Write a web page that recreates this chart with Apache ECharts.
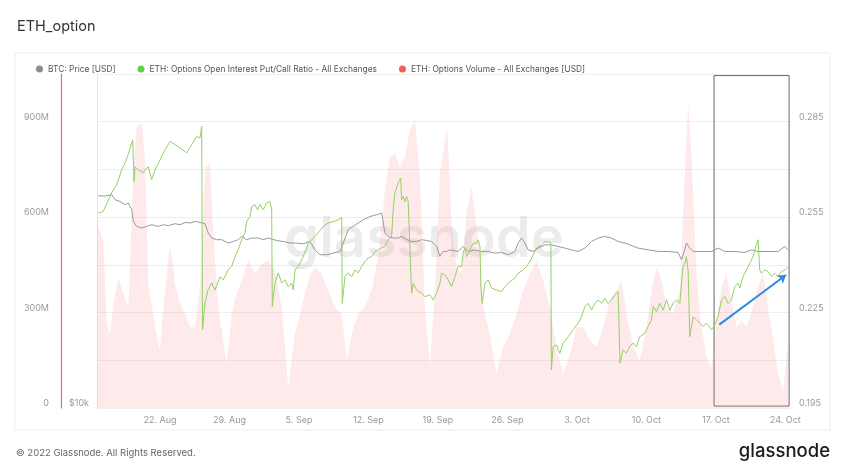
<!DOCTYPE html>
<html><head><meta charset="utf-8">
<script src="https://cdn.jsdelivr.net/npm/echarts@6/dist/echarts.min.js"></script>
<style>html,body{margin:0;padding:0;background:#fff;}#c{width:846px;height:468px;}</style>
</head><body><div id="c"></div>
<script>
// x values are days since 15 Aug 2022 00:00 UTC
const T0 = Date.UTC(2022, 7, 15);
const DAY = 86400000;
const MONTHS = ['Jan','Feb','Mar','Apr','May','Jun','Jul','Aug','Sep','Oct','Nov','Dec'];
const xTickDays = [7, 14, 21, 28, 35, 42, 49, 56, 63, 70];
const xMinDay = 0.65, xMaxDay = 70.47;

// ETH options open interest put/call ratio
const ratioDays = [0.79,1.26,2.14,2.64,3.14,3.48,3.78,4.15,4.25,4.38,4.48,4.81,5.32,5.49,5.82,6.16,6.50,7.00,7.50,8.01,8.51,9.01,9.69,10.19,10.70,11.03,11.20,11.28,11.53,11.83,12.21,12.54,13.04,13.37,13.85,14.22,14.55,14.86,15.23,15.56,15.73,16.06,16.23,16.57,16.82,17.07,17.40,17.75,18.08,18.25,18.31,18.58,18.91,19.26,19.59,19.92,20.26,20.42,20.60,20.93,21.27,21.60,21.93,22.28,22.61,22.94,23.45,23.95,24.45,24.96,25.30,25.36,25.63,25.96,26.31,26.64,26.97,27.31,27.64,27.98,28.32,28.65,28.98,29.33,29.66,29.83,29.99,30.33,30.49,30.67,31.00,31.24,31.34,31.50,31.67,31.84,32.00,32.18,32.35,32.51,32.85,33.35,33.69,34.19,34.52,34.87,35.20,35.37,35.70,36.03,36.37,36.71,37.04,37.38,37.54,37.71,37.89,38.22,38.55,38.89,39.05,39.23,39.33,39.46,39.73,40.06,40.40,40.91,41.41,41.74,42.25,42.75,43.08,43.59,43.93,44.26,44.59,44.94,45.44,45.77,46.10,46.38,46.43,46.61,46.95,47.28,47.61,48.12,48.62,49.12,49.47,49.80,50.13,50.47,50.81,51.14,51.48,51.81,52.15,52.49,52.82,53.15,53.27,53.35,53.65,53.99,54.32,54.66,55.00,55.34,55.84,56.17,56.51,56.68,57.02,57.35,57.69,58.03,58.36,58.69,59.03,59.37,59.54,59.70,59.87,60.04,60.21,60.37,60.71,61.05,61.38,61.72,62.05,62.56,62.89,63.22,63.57,63.90,64.23,64.57,64.90,65.24,65.41,65.74,66.08,66.42,66.75,66.92,67.26,67.42,67.59,67.93,68.26,68.60,68.93,69.27,69.61,69.94,70.28];
const ratioValues = [0.2563,0.2567,0.2627,0.2652,0.2699,0.2721,0.2746,0.2784,0.2793,0.2662,0.2708,0.2699,0.2690,0.2699,0.2708,0.2668,0.2699,0.2730,0.2762,0.2788,0.2778,0.2768,0.2752,0.2778,0.2804,0.2799,0.2835,0.2196,0.2280,0.2321,0.2343,0.2321,0.2362,0.2353,0.2384,0.2395,0.2425,0.2447,0.2479,0.2501,0.2536,0.2552,0.2583,0.2589,0.2573,0.2589,0.2573,0.2595,0.2599,0.2573,0.2269,0.2343,0.2375,0.2343,0.2353,0.2331,0.2343,0.2321,0.2384,0.2395,0.2416,0.2438,0.2469,0.2479,0.2489,0.2501,0.2521,0.2532,0.2536,0.2542,0.2548,0.2279,0.2363,0.2375,0.2363,0.2384,0.2375,0.2395,0.2410,0.2422,0.2426,0.2442,0.2447,0.2454,0.2458,0.2469,0.2479,0.2489,0.2573,0.2627,0.2658,0.2673,0.2605,0.2615,0.2599,0.2615,0.2599,0.2595,0.2311,0.2342,0.2321,0.2311,0.2300,0.2306,0.2290,0.2311,0.2342,0.2374,0.2369,0.2353,0.2332,0.2363,0.2395,0.2395,0.2438,0.2453,0.2426,0.2447,0.2468,0.2468,0.2479,0.2458,0.2332,0.2279,0.2342,0.2353,0.2327,0.2321,0.2316,0.2332,0.2347,0.2358,0.2374,0.2384,0.2395,0.2410,0.2431,0.2453,0.2463,0.2473,0.2473,0.2468,0.2070,0.2143,0.2148,0.2122,0.2154,0.2174,0.2196,0.2217,0.2237,0.2269,0.2279,0.2258,0.2279,0.2290,0.2279,0.2295,0.2279,0.2290,0.2306,0.2316,0.2316,0.2091,0.2133,0.2122,0.2143,0.2154,0.2143,0.2174,0.2185,0.2206,0.2227,0.2269,0.2253,0.2279,0.2258,0.2290,0.2258,0.2279,0.2290,0.2279,0.2342,0.2395,0.2405,0.2426,0.2380,0.2174,0.2237,0.2227,0.2217,0.2206,0.2217,0.2196,0.2211,0.2237,0.2290,0.2300,0.2279,0.2290,0.2332,0.2342,0.2327,0.2363,0.2384,0.2405,0.2426,0.2447,0.2479,0.2384,0.2374,0.2384,0.2379,0.2363,0.2374,0.2363,0.2379,0.2384,0.2395];

// BTC price in USD
const priceDays = [0.79,1.46,2.14,2.47,2.97,3.48,3.81,4.15,4.31,4.65,5.16,5.66,6.16,6.83,7.33,7.84,8.51,9.01,9.52,10.02,10.52,11.03,11.53,11.86,12.21,12.71,13.21,13.88,14.38,14.89,15.23,15.73,16.23,16.90,17.40,17.91,18.75,19.42,20.09,20.77,21.43,22.11,22.61,23.11,23.79,24.45,25.13,25.46,25.96,26.47,26.97,27.47,28.15,28.82,29.33,29.49,29.66,29.99,30.49,31.00,31.34,31.84,32.35,32.85,33.35,33.86,34.36,34.87,35.20,35.53,35.87,36.20,36.37,37.04,37.54,38.05,38.72,39.40,40.06,40.74,41.41,42.08,42.75,43.08,43.43,43.76,44.09,44.59,45.10,45.77,46.45,47.11,47.79,48.46,49.12,49.80,50.47,51.14,51.81,52.49,53.15,53.83,54.33,55.17,56.17,57.18,58.19,59.20,59.54,59.87,60.04,60.37,60.71,61.55,62.56,63.22,63.90,64.90,65.91,66.58,67.26,68.26,69.27,69.94,70.28];
const priceUsd = [24140,24100,24240,23740,23570,23250,23420,22780,21690,21250,21110,21250,21400,21250,21400,21310,21490,21400,21600,21550,21690,21600,21490,20670,20250,20110,20110,19830,19960,20110,20380,20110,20250,20250,20110,20250,20040,19960,19830,19830,19770,19960,19280,18890,18890,19020,19150,19830,20960,21250,21550,21840,22140,22300,22460,22300,20670,20380,20250,20250,20380,20110,19960,19960,20110,20040,19960,19550,18760,19150,19150,19280,19150,19150,19550,19150,19280,19150,19150,19020,19070,18890,19150,19830,20250,19830,19280,19150,19420,19680,19680,19550,19420,19280,19150,19420,19960,20250,20380,20250,19960,19830,19680,19420,19280,19150,19150,19070,18500,19280,19830,19420,19150,19150,19150,19420,19150,19150,19070,19280,19150,19150,19150,19550,19280];

// ETH options volume, millions of USD
const volumeDays = [0.65,0.79,1.29,1.63,1.96,2.30,2.80,3.30,3.81,4.31,4.65,5.16,5.49,5.82,6.16,6.50,7.00,7.33,8.01,8.51,9.01,9.52,10.02,10.52,11.03,11.53,12.04,12.37,12.87,13.37,13.72,14.22,14.72,15.23,15.89,16.57,17.24,17.91,18.58,19.26,19.92,20.60,21.27,21.93,22.61,23.28,23.95,24.62,25.30,25.80,26.31,26.97,27.64,28.32,28.98,29.66,30.16,30.67,31.17,31.67,32.18,32.68,33.18,33.69,34.19,34.69,35.20,35.70,35.94,36.37,36.88,37.38,37.89,38.39,39.05,39.56,40.23,40.91,41.57,42.25,42.92,43.59,44.26,44.94,45.60,46.27,46.95,47.61,48.29,48.96,49.63,50.30,50.98,51.64,52.32,52.99,53.50,54.00,54.67,55.34,56.01,56.51,57.02,57.52,58.03,58.69,59.37,59.87,60.21,60.55,61.05,61.55,62.05,62.56,63.06,63.57,64.07,64.57,65.08,65.58,66.08,66.75,67.26,67.76,68.26,68.77,69.27,69.77,70.28];
const volumeMillions = [600,569,526,264,233,327,411,359,317,736,883,894,778,390,327,254,180,317,516,390,327,296,254,254,380,757,768,548,317,212,138,296,359,401,464,422,453,464,432,317,65,233,317,401,443,422,369,317,296,149,233,296,317,369,474,684,789,799,757,789,873,904,736,317,128,369,736,841,883,579,443,422,611,695,526,317,233,107,191,233,296,369,422,464,401,317,191,107,170,254,254,212,191,254,338,369,401,296,191,149,254,369,443,401,317,296,369,736,957,789,422,254,160,128,264,380,422,338,254,275,254,317,380,422,317,212,107,54,212];

// y-axis ranges / tick labels
const ratioMin = 0.195, ratioMax = 0.300, ratioStep = 0.015;
const volumeMax = 1050e6, volumeStep = 300e6;
const priceMin = 10000, priceMax = 40000;

// annotation: highlighted window and trend arrow (data units)
const boxDays = [62.82, 70.38];
const boxRatio = [0.1956, 0.2995];
const trendFrom = [63.35, 0.2212];
const trendTo = [70.07, 0.2368];

const zip = (xs, ys, k) => xs.map((d, i) => [d, ys[i] * (k || 1)]);
const fmtDay = d => { const dt = new Date(T0 + Math.round(d) * DAY); return dt.getUTCDate() + '. ' + MONTHS[dt.getUTCMonth()]; };

const FONT = 'Inter, "Noto Sans", sans-serif';
const chart = echarts.init(document.getElementById('c'), null, { renderer: 'canvas' });
chart.setOption({
  animation: false,
  backgroundColor: '#fff',
  textStyle: { fontFamily: FONT },
  graphic: [
    { type: 'rect', silent: true, z: -10, shape: { x: 15, y: 53, width: 815, height: 377 },
      style: { fill: '#fff', stroke: '#ededed', lineWidth: 1 } },
    { type: 'text', left: 17, top: 19, style: { text: 'ETH_option', fontSize: 14.5, fill: '#333', fontFamily: FONT } },
    { type: 'text', left: 16, top: 448, style: { text: '\u00a9 2022 Glassnode. All Rights Reserved.', fontSize: 9.5, fill: '#666', fontFamily: FONT } },
    { type: 'text', right: 16, top: 442, style: { text: 'glassnode', fontSize: 18.5, fontWeight: 500, fill: '#1b1b1b', fontFamily: FONT } },
    { type: 'text', x: 424, y: 240, z: 1, silent: true,
      style: { text: 'glassnode', fontSize: 56, fontWeight: 600, fill: 'rgba(120,120,120,0.14)', align: 'center', verticalAlign: 'middle', fontFamily: FONT } }
  ],
  legend: {
    left: 31, top: 60, icon: 'circle', itemWidth: 7, itemHeight: 7, itemGap: 22,
    textStyle: { fontSize: 8.4, color: '#555', fontFamily: FONT },
    data: ['BTC: Price [USD]', 'ETH: Options Open Interest Put/Call Ratio - All Exchanges', 'ETH: Options Volume - All Exchanges [USD]']
  },
  grid: { left: 97, right: 56, top: 74, bottom: 60 },
  xAxis: {
    type: 'value', min: xMinDay, max: xMaxDay,
    axisLine: { show: true, lineStyle: { color: '#eeeeee' } },
    axisTick: { show: false },
    splitLine: { show: false },
    axisLabel: { customValues: xTickDays, formatter: fmtDay, fontSize: 9, color: '#999', margin: 8, fontFamily: FONT }
  },
  yAxis: [
    { type: 'value', position: 'right', min: ratioMin, max: ratioMax, interval: ratioStep,
      axisLine: { show: false }, axisTick: { show: false },
      splitLine: { show: true, lineStyle: { color: '#eeeeee' } },
      axisLabel: { fontSize: 9, color: '#999', margin: 9, verticalAlign: 'bottom', fontFamily: FONT,
        formatter: v => { const k = Math.round((v - ratioMin) / ratioStep); return k % 2 === 0 ? v.toFixed(3) : ''; } } },
    { type: 'value', position: 'left', offset: 36, min: 0, max: volumeMax, interval: volumeStep,
      axisLine: { show: true, onZero: false, lineStyle: { color: '#f26a6a', width: 1.2, opacity: 1 } }, axisTick: { show: false },
      splitLine: { show: false },
      axisLabel: { fontSize: 9, color: '#999', margin: 12, verticalAlign: 'bottom', fontFamily: FONT, showMaxLabel: false,
        formatter: v => v === 0 ? '0' : (v >= volumeMax ? '' : (v / 1e6) + 'M') } },
    { type: 'log', logBase: 10, position: 'left', min: priceMin, max: priceMax,
      axisLine: { show: true, onZero: false, lineStyle: { color: '#e6e6e6' } }, axisTick: { show: false },
      splitLine: { show: false },
      axisLabel: { fontSize: 9, color: '#999', margin: 8, verticalAlign: 'bottom', fontFamily: FONT,
        formatter: v => Math.abs(v - 10000) < 1 ? '$10k' : '' } }
  ],
  series: [
    { name: 'ETH: Options Volume - All Exchanges [USD]', type: 'line', yAxisIndex: 1, z: 1,
      data: zip(volumeDays, volumeMillions, 1e6), showSymbol: false, symbol: 'none',
      itemStyle: { color: '#f25c5c' }, lineStyle: { width: 0 },
      areaStyle: { color: 'rgba(248,150,150,0.29)' } },
    { name: 'BTC: Price [USD]', type: 'line', yAxisIndex: 2, z: 3,
      data: zip(priceDays, priceUsd), showSymbol: false, symbol: 'none',
      itemStyle: { color: '#8c8c8c' }, lineStyle: { width: 1, color: '#999999' } },
    { name: 'ETH: Options Open Interest Put/Call Ratio - All Exchanges', type: 'line', yAxisIndex: 0, z: 4,
      data: zip(ratioDays, ratioValues), showSymbol: false, symbol: 'none',
      itemStyle: { color: '#63cf43' }, lineStyle: { width: 1, color: '#93d165' },
      markArea: { silent: true, label: { show: false },
        itemStyle: { color: 'rgba(0,0,0,0)', borderColor: '#666', borderWidth: 1 },
        data: [[{ coord: [boxDays[0], boxRatio[1]] }, { coord: [boxDays[1], boxRatio[0]] }]] },
      markLine: { silent: true, symbol: ['none', 'arrow'], symbolSize: 8, label: { show: false },
        lineStyle: { color: '#2b8de3', width: 2, type: 'solid' },
        data: [[{ coord: [trendFrom[0], trendFrom[1]] }, { coord: [trendTo[0], trendTo[1]] }]] } }
  ]
});
</script></body></html>
